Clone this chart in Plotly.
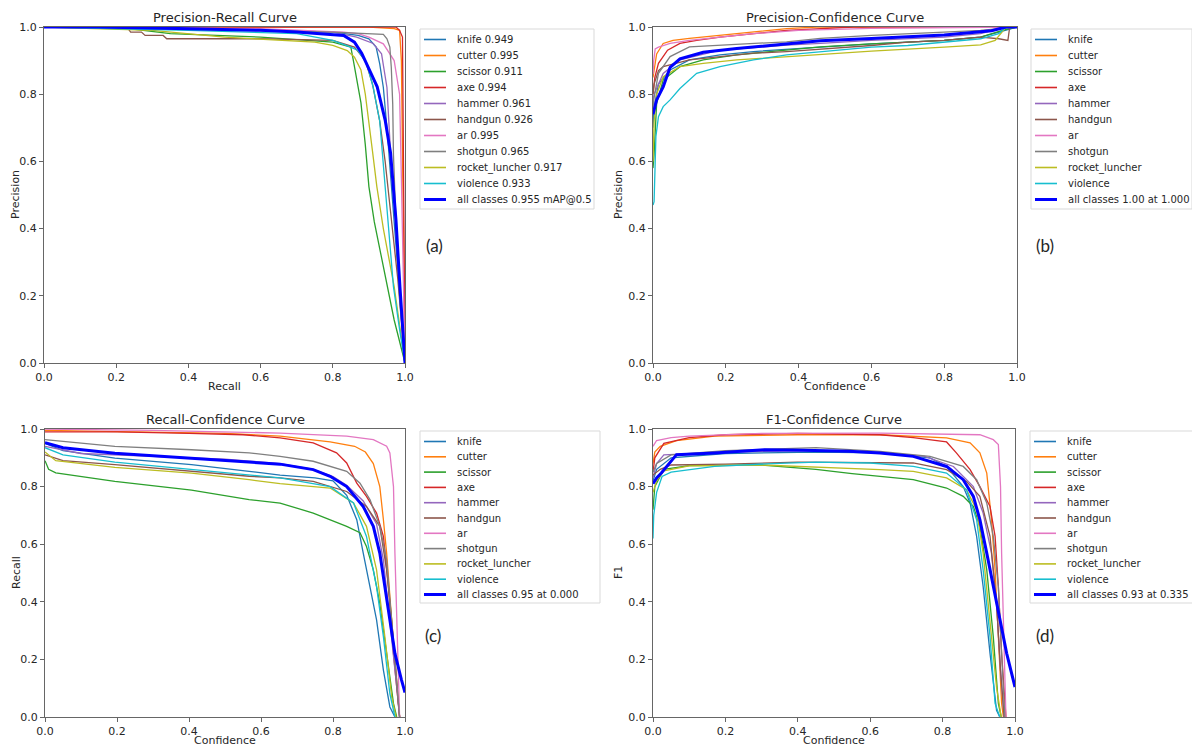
import plotly.graph_objects as go

# target picture size; the page body adds an 8px margin before the figure
W, H = 1200, 751
BODY = 8

# classes and colours (matplotlib tab10), "all" is the mean curve
classes = ["knife", "cutter", "scissor", "axe", "hammer", "handgun",
           "ar", "shotgun", "rocket_luncher", "violence"]
colors = ["#1f77b4", "#ff7f0e", "#2ca02c", "#d62728", "#9467bd",
          "#8c564b", "#e377c2", "#7f7f7f", "#bcbd22", "#17becf"]
ap50 = [0.949, 0.995, 0.911, 0.994, 0.961, 0.926, 0.995, 0.965, 0.917, 0.933]

# (a) Precision-Recall
pr_recall = {
    "knife": [0, 0.5, 0.8, 0.87, 0.9, 0.92, 0.93, 0.94, 0.95, 0.96, 0.975, 0.99, 1.0],
    "cutter": [0, 0.9, 0.97, 0.985, 0.99, 0.995, 1.0],
    "scissor": [0, 0.2, 0.35, 0.6, 0.8, 0.85, 0.857, 0.865, 0.878, 0.89, 0.9, 0.915, 0.933, 0.95, 0.97, 1.0],
    "axe": [0, 0.96, 0.975, 0.985, 0.99, 0.993, 0.995, 0.997, 1.0],
    "hammer": [0, 0.5, 0.8, 0.866, 0.912, 0.935, 0.95, 0.96, 0.97, 0.98, 0.99, 1.0],
    "handgun": [0, 0.23, 0.24, 0.27, 0.28, 0.33, 0.34, 0.6, 0.8, 0.86, 0.89, 0.91, 0.93, 0.945, 0.96, 0.98, 1.0],
    "ar": [0, 0.6, 0.83, 0.87, 0.9, 0.94, 0.97, 0.985, 0.99, 0.995, 1.0],
    "shotgun": [0, 0.5, 0.8, 0.94, 0.95, 0.958, 0.962, 0.966, 0.968, 0.975, 0.985, 1.0],
    "rocket_luncher": [0, 0.3, 0.5, 0.65, 0.75, 0.8, 0.84, 0.86, 0.878, 0.89, 0.9, 0.91, 0.922, 0.94, 0.97, 1.0],
    "violence": [0, 0.4, 0.7, 0.8, 0.848, 0.87, 0.894, 0.912, 0.93, 0.945, 0.955, 0.968, 0.985, 1.0],
    "all": [0, 0.15, 0.4, 0.6, 0.7, 0.78, 0.83, 0.86, 0.88, 0.923, 0.945, 0.96, 0.975, 0.986, 1.0],
}
pr_precision = {
    "knife": [1, 0.995, 0.985, 0.975, 0.965, 0.94, 0.89, 0.82, 0.7, 0.55, 0.35, 0.15, 0],
    "cutter": [1, 1, 0.995, 0.99, 0.9, 0.5, 0],
    "scissor": [1, 1, 0.98, 0.97, 0.955, 0.94, 0.9, 0.85, 0.774, 0.65, 0.525, 0.42, 0.327, 0.24, 0.128, 0],
    "axe": [1, 1, 1, 0.99, 0.98, 0.97, 0.7, 0.3, 0],
    "hammer": [1, 0.995, 0.985, 0.97, 0.951, 0.92, 0.82, 0.625, 0.48, 0.33, 0.15, 0],
    "handgun": [1, 1, 0.985, 0.985, 0.975, 0.975, 0.965, 0.965, 0.96, 0.94, 0.9, 0.83, 0.72, 0.6, 0.45, 0.25, 0],
    "ar": [1, 0.995, 0.985, 0.98, 0.97, 0.95, 0.9, 0.8, 0.55, 0.3, 0],
    "shotgun": [1, 0.99, 0.985, 0.978, 0.965, 0.94, 0.88, 0.77, 0.62, 0.42, 0.2, 0],
    "rocket_luncher": [1, 0.99, 0.97, 0.96, 0.955, 0.945, 0.93, 0.91, 0.872, 0.8, 0.723, 0.63, 0.525, 0.4, 0.227, 0],
    "violence": [1, 0.99, 0.98, 0.96, 0.941, 0.93, 0.892, 0.82, 0.72, 0.525, 0.4, 0.227, 0.1, 0],
    "all": [1, 1, 0.995, 0.99, 0.985, 0.98, 0.975, 0.955, 0.922, 0.822, 0.723, 0.625, 0.426, 0.227, 0],
}

# (b) Precision-Confidence
pc_conf = {
    "knife": [0, 0.003, 0.015, 0.047, 0.1, 0.184, 0.276, 0.46, 0.6, 0.8, 0.9, 0.95, 1.0],
    "cutter": [0, 0.004, 0.01, 0.028, 0.055, 0.1, 0.184, 0.276, 0.367, 0.45, 1.0],
    "scissor": [0, 0.003, 0.01, 0.028, 0.074, 0.138, 0.23, 0.367, 0.46, 0.6, 0.8, 0.9, 0.96, 1.0],
    "axe": [0, 0.005, 0.015, 0.04, 0.074, 0.12, 0.184, 0.276, 0.367, 0.55, 1.0],
    "hammer": [0, 0.003, 0.028, 0.074, 0.184, 0.367, 0.46, 0.6, 0.8, 0.9, 0.97, 1.0],
    "handgun": [0, 0.003, 0.015, 0.028, 0.1, 0.184, 0.276, 0.367, 0.46, 0.6, 0.7, 0.8, 0.9, 0.95, 0.975, 0.98, 1.0],
    "ar": [0, 0.002, 0.006, 0.015, 0.047, 0.1, 0.184, 0.276, 0.4, 0.6, 1.0],
    "shotgun": [0, 0.003, 0.015, 0.047, 0.1, 0.184, 0.276, 0.367, 0.46, 0.6, 0.8, 0.9, 1.0],
    "rocket_luncher": [0, 0.003, 0.01, 0.028, 0.074, 0.138, 0.23, 0.367, 0.46, 0.6, 0.8, 0.9, 0.94, 0.97, 1.0],
    "violence": [0, 0.003, 0.008, 0.015, 0.028, 0.047, 0.074, 0.12, 0.184, 0.276, 0.367, 0.46, 0.6, 0.7, 0.8, 0.9, 0.95, 0.97, 1.0],
    "all": [0, 0.003, 0.01, 0.028, 0.047, 0.074, 0.138, 0.23, 0.367, 0.46, 0.6, 0.8, 0.93, 0.97, 1.0],
}
pc_precision = {
    "knife": [0.7, 0.76, 0.83, 0.872, 0.902, 0.917, 0.927, 0.941, 0.95, 0.96, 0.97, 0.985, 1.0],
    "cutter": [0.85, 0.88, 0.92, 0.951, 0.96, 0.966, 0.975, 0.985, 0.995, 1.0, 1.0],
    "scissor": [0.58, 0.62, 0.773, 0.842, 0.882, 0.902, 0.917, 0.931, 0.941, 0.95, 0.96, 0.97, 0.99, 1.0],
    "axe": [0.8, 0.85, 0.892, 0.931, 0.951, 0.96, 0.97, 0.98, 0.99, 1.0, 1.0],
    "hammer": [0.78, 0.8, 0.862, 0.902, 0.931, 0.946, 0.951, 0.96, 0.97, 0.98, 1.0, 1.0],
    "handgun": [0.8, 0.83, 0.87, 0.882, 0.902, 0.912, 0.922, 0.927, 0.934, 0.945, 0.955, 0.96, 0.97, 0.965, 0.96, 1.0, 1.0],
    "ar": [0.86, 0.9, 0.935, 0.94, 0.951, 0.96, 0.97, 0.98, 0.99, 0.996, 1.0],
    "shotgun": [0.76, 0.79, 0.862, 0.912, 0.941, 0.946, 0.951, 0.956, 0.966, 0.975, 0.985, 0.99, 1.0],
    "rocket_luncher": [0.6, 0.72, 0.8, 0.852, 0.882, 0.892, 0.902, 0.912, 0.917, 0.928, 0.94, 0.947, 0.96, 1.0, 1.0],
    "violence": [0.47, 0.48, 0.674, 0.733, 0.763, 0.783, 0.817, 0.862, 0.882, 0.902, 0.917, 0.927, 0.94, 0.945, 0.955, 0.965, 0.98, 1.0, 1.0],
    "all": [0.74, 0.753, 0.783, 0.822, 0.88, 0.905, 0.925, 0.936, 0.951, 0.959, 0.966, 0.976, 0.989, 1.0, 1.0],
}

# (c) Recall-Confidence
rc_conf = {
    "knife": [0, 0.05, 0.194, 0.407, 0.567, 0.653, 0.75, 0.8, 0.838, 0.866, 0.884, 0.903, 0.921, 0.94, 0.958, 0.972],
    "cutter": [0, 0.3, 0.5, 0.653, 0.792, 0.86, 0.89, 0.912, 0.93, 0.94, 0.949, 0.963, 0.977, 0.985],
    "scissor": [0, 0.01, 0.03, 0.194, 0.407, 0.567, 0.653, 0.745, 0.838, 0.875, 0.893, 0.912, 0.93, 0.949, 0.968, 0.977],
    "axe": [0, 0.2, 0.4, 0.55, 0.653, 0.745, 0.81, 0.838, 0.866, 0.893, 0.921, 0.94, 0.954, 0.968, 0.985],
    "hammer": [0, 0.1, 0.3, 0.5, 0.653, 0.745, 0.8, 0.838, 0.884, 0.921, 0.94, 0.958, 0.977, 0.985],
    "handgun": [0, 0.05, 0.194, 0.407, 0.567, 0.653, 0.745, 0.838, 0.893, 0.93, 0.949, 0.963, 0.977, 0.985],
    "ar": [0, 0.3, 0.653, 0.838, 0.912, 0.949, 0.958, 0.968, 0.972, 0.977, 0.981, 0.985],
    "shotgun": [0, 0.194, 0.407, 0.567, 0.653, 0.745, 0.838, 0.875, 0.903, 0.93, 0.949, 0.963, 0.977, 0.985],
    "rocket_luncher": [0, 0.03, 0.194, 0.407, 0.567, 0.653, 0.792, 0.857, 0.893, 0.921, 0.944, 0.963, 0.975],
    "violence": [0, 0.05, 0.194, 0.407, 0.567, 0.653, 0.792, 0.857, 0.893, 0.921, 0.94, 0.958, 0.972],
    "all": [0, 0.05, 0.194, 0.407, 0.567, 0.653, 0.745, 0.792, 0.838, 0.884, 0.912, 0.93, 0.944, 0.958, 0.972, 0.99, 1.0],
}
rc_recall = {
    "knife": [0.95, 0.925, 0.899, 0.876, 0.853, 0.84, 0.83, 0.82, 0.77, 0.685, 0.569, 0.453, 0.337, 0.163, 0.035, 0.0],
    "cutter": [0.995, 0.99, 0.985, 0.975, 0.955, 0.94, 0.92, 0.88, 0.8, 0.685, 0.569, 0.337, 0.104, 0.0],
    "scissor": [0.89, 0.86, 0.848, 0.818, 0.788, 0.755, 0.743, 0.708, 0.662, 0.64, 0.592, 0.511, 0.395, 0.221, 0.047, 0.0],
    "axe": [0.99, 0.99, 0.985, 0.98, 0.969, 0.952, 0.917, 0.882, 0.812, 0.766, 0.708, 0.627, 0.453, 0.221, 0.0],
    "hammer": [0.94, 0.915, 0.905, 0.895, 0.88, 0.86, 0.835, 0.805, 0.75, 0.67, 0.545, 0.337, 0.104, 0.0],
    "handgun": [0.91, 0.89, 0.876, 0.853, 0.836, 0.83, 0.818, 0.783, 0.731, 0.662, 0.511, 0.337, 0.104, 0.0],
    "ar": [1.0, 0.995, 0.986, 0.975, 0.963, 0.94, 0.917, 0.8, 0.569, 0.337, 0.104, 0.0],
    "shotgun": [0.963, 0.94, 0.928, 0.917, 0.905, 0.888, 0.853, 0.812, 0.754, 0.662, 0.545, 0.337, 0.104, 0.0],
    "rocket_luncher": [0.92, 0.89, 0.867, 0.847, 0.824, 0.81, 0.795, 0.743, 0.662, 0.511, 0.279, 0.07, 0.0],
    "violence": [0.935, 0.91, 0.885, 0.86, 0.84, 0.83, 0.8, 0.743, 0.627, 0.453, 0.279, 0.08, 0.0],
    "all": [0.952, 0.935, 0.916, 0.899, 0.887, 0.878, 0.859, 0.836, 0.8, 0.731, 0.662, 0.569, 0.453, 0.337, 0.221, 0.13, 0.085],
}

# (d) F1-Confidence
f1_conf = {
    "knife": [0, 0.01, 0.05, 0.2, 0.45, 0.627, 0.765, 0.811, 0.857, 0.876, 0.894, 0.912, 0.931, 0.949, 0.958],
    "cutter": [0, 0.005, 0.02, 0.065, 0.17, 0.4, 0.627, 0.811, 0.876, 0.903, 0.922, 0.935, 0.945, 0.954, 0.963, 0.968],
    "scissor": [0, 0.005, 0.03, 0.1, 0.3, 0.45, 0.55, 0.627, 0.719, 0.811, 0.857, 0.885, 0.903, 0.922, 0.94, 0.954, 0.962],
    "axe": [0, 0.005, 0.03, 0.1, 0.2, 0.4, 0.627, 0.719, 0.811, 0.838, 0.876, 0.903, 0.931, 0.945, 0.954, 0.963, 0.975],
    "hammer": [0, 0.01, 0.03, 0.2, 0.45, 0.627, 0.75, 0.83, 0.885, 0.912, 0.935, 0.949, 0.96, 0.97],
    "handgun": [0, 0.02, 0.05, 0.2, 0.4, 0.627, 0.719, 0.811, 0.866, 0.903, 0.931, 0.949, 0.96, 0.97],
    "ar": [0, 0.01, 0.05, 0.1, 0.3, 0.627, 0.903, 0.94, 0.954, 0.96, 0.963, 0.968, 0.972, 0.975],
    "shotgun": [0, 0.01, 0.05, 0.2, 0.45, 0.627, 0.765, 0.857, 0.894, 0.922, 0.94, 0.954, 0.963, 0.972],
    "rocket_luncher": [0, 0.01, 0.03, 0.1, 0.3, 0.5, 0.627, 0.719, 0.811, 0.866, 0.894, 0.912, 0.931, 0.949, 0.962],
    "violence": [0, 0.002, 0.01, 0.025, 0.05, 0.17, 0.33, 0.45, 0.6, 0.719, 0.811, 0.866, 0.894, 0.912, 0.931, 0.945, 0.958],
    "all": [0, 0.01, 0.023, 0.049, 0.065, 0.17, 0.308, 0.414, 0.541, 0.627, 0.719, 0.811, 0.857, 0.885, 0.903, 0.922, 0.94, 0.958, 0.977, 1.0],
}
f1_score = {
    "knife": [0.82, 0.86, 0.9, 0.915, 0.92, 0.917, 0.9, 0.87, 0.8, 0.743, 0.627, 0.453, 0.221, 0.023, 0.0],
    "cutter": [0.88, 0.92, 0.94, 0.96, 0.975, 0.98, 0.98, 0.969, 0.952, 0.917, 0.847, 0.685, 0.511, 0.279, 0.047, 0.0],
    "scissor": [0.72, 0.8, 0.86, 0.873, 0.875, 0.86, 0.845, 0.835, 0.824, 0.795, 0.766, 0.731, 0.662, 0.511, 0.279, 0.047, 0.0],
    "axe": [0.85, 0.9, 0.95, 0.97, 0.98, 0.985, 0.98, 0.97, 0.955, 0.917, 0.859, 0.8, 0.731, 0.627, 0.453, 0.221, 0.0],
    "hammer": [0.83, 0.88, 0.91, 0.92, 0.925, 0.92, 0.905, 0.87, 0.8, 0.708, 0.569, 0.395, 0.163, 0.0],
    "handgun": [0.84, 0.86, 0.875, 0.878, 0.885, 0.882, 0.882, 0.859, 0.818, 0.766, 0.627, 0.395, 0.163, 0.0],
    "ar": [0.94, 0.96, 0.97, 0.975, 0.985, 0.986, 0.98, 0.963, 0.946, 0.8, 0.569, 0.337, 0.104, 0.0],
    "shotgun": [0.85, 0.88, 0.91, 0.925, 0.935, 0.922, 0.905, 0.87, 0.824, 0.743, 0.627, 0.453, 0.221, 0.0],
    "rocket_luncher": [0.78, 0.82, 0.855, 0.872, 0.875, 0.866, 0.859, 0.853, 0.83, 0.789, 0.72, 0.569, 0.337, 0.104, 0.0],
    "violence": [0.62, 0.7, 0.78, 0.835, 0.85, 0.87, 0.88, 0.885, 0.882, 0.87, 0.847, 0.789, 0.685, 0.511, 0.279, 0.047, 0.0],
    "all": [0.81, 0.83, 0.847, 0.888, 0.911, 0.917, 0.928, 0.926, 0.923, 0.917, 0.905, 0.87, 0.824, 0.766, 0.685, 0.569, 0.453, 0.337, 0.221, 0.104],
}

tick_vals = [0, 0.2, 0.4, 0.6, 0.8, 1.0]
tick_text = ["0.0", "0.2", "0.4", "0.6", "0.8", "1.0"]

FONT = "DejaVu Sans"
AXIS_COLOR = "#666666"
TEXT_COLOR = "#262626"


def px(x):
    # page pixel -> paper fraction
    return (x - BODY) / W


def py(y):
    return 1 - (y - BODY) / H


# panel layout in page pixels: plot box (l, r, t, b), legend box (l, t, r, b, step), tag centre
panels = [
    dict(id="", box=(44, 405, 27, 363), title="Precision-Recall Curve",
         xlabel="Recall", ylabel="Precision", ylabel_x=16,
         xs=pr_recall, ys=pr_precision,
         labels=[f"{c} {a:.3f}" for c, a in zip(classes, ap50)] + ["all classes 0.955 mAP@0.5"],
         legend=(420, 29, 594, 209, 16.0), tag="(a)", tag_pos=(434, 245)),
    dict(id="2", box=(653, 1017, 27, 363), title="Precision-Confidence Curve",
         xlabel="Confidence", ylabel="Precision", ylabel_x=619,
         xs=pc_conf, ys=pc_precision,
         labels=classes + ["all classes 1.00 at 1.000"],
         legend=(1031, 29, 1192, 209, 16.0), tag="(b)", tag_pos=(1045, 245)),
    dict(id="3", box=(45, 405, 429, 717), title="Recall-Confidence Curve",
         xlabel="Confidence", ylabel="Recall", ylabel_x=16,
         xs=rc_conf, ys=rc_recall,
         labels=classes + ["all classes 0.95 at 0.000"],
         legend=(420, 431, 600, 603, 15.3), tag="(c)", tag_pos=(433, 635)),
    dict(id="4", box=(653, 1015, 429, 717), title="F1-Confidence Curve",
         xlabel="Confidence", ylabel="F1", ylabel_x=618,
         xs=f1_conf, ys=f1_score,
         labels=classes + ["all classes 0.93 at 0.335"],
         legend=(1030, 431, 1199, 603, 15.3), tag="(d)", tag_pos=(1045, 635)),
]


def axis_style(domain, anchor):
    return dict(
        domain=domain, anchor=anchor, range=[0, 1], fixedrange=True,
        tickvals=tick_vals, ticktext=tick_text,
        tickfont=dict(family=FONT, size=11, color=TEXT_COLOR),
        ticks="outside", ticklen=4, tickwidth=1, tickcolor=AXIS_COLOR,
        showline=True, linecolor=AXIS_COLOR, linewidth=1, mirror=True,
        showgrid=False, zeroline=False, automargin=False,
    )


def create_figure():
    fig = go.Figure()
    shapes, annotations = [], []
    keys = classes + ["all"]
    line_colors = colors + ["#0000ff"]

    for p in panels:
        l, r, t, b = p["box"]
        xa, ya = "x" + p["id"], "y" + p["id"]

        # curves: classes first, mean curve on top
        for k, col in zip(keys, line_colors):
            fig.add_trace(go.Scatter(
                x=p["xs"][k], y=p["ys"][k], mode="lines",
                line=dict(color=col, width=3 if k == "all" else 1.3),
                xaxis=xa, yaxis=ya, showlegend=False, hoverinfo="skip",
            ))

        fig.update_layout({
            "xaxis" + p["id"]: axis_style([px(l), px(r)], ya),
            "yaxis" + p["id"]: axis_style([py(b), py(t)], xa),
        })

        # title, axis titles and panel tag
        annotations.append(dict(text=p["title"], x=px((l + r) / 2), y=py(t - 10),
                                font=dict(family=FONT, size=13, color=TEXT_COLOR)))
        annotations.append(dict(text=p["xlabel"], x=px((l + r) / 2), y=py(b + 23),
                                font=dict(family=FONT, size=11, color=TEXT_COLOR)))
        annotations.append(dict(text=p["ylabel"], x=px(p["ylabel_x"]), y=py((t + b) / 2),
                                textangle=-90, font=dict(family=FONT, size=11, color=TEXT_COLOR)))
        annotations.append(dict(text=p["tag"], x=px(p["tag_pos"][0]), y=py(p["tag_pos"][1]),
                                font=dict(family="Lato", size=17, color=TEXT_COLOR)))

        # matplotlib-like legend box drawn by hand
        ll, lt, lr, lb, step = p["legend"]
        shapes.append(dict(type="rect", xref="paper", yref="paper",
                           x0=px(ll), x1=px(lr), y0=py(lb), y1=py(lt),
                           line=dict(color="#d9d9d9", width=1), fillcolor="white"))
        for i, (lab, col) in enumerate(zip(p["labels"], line_colors)):
            yy = py(lt + 10.5 + i * step)
            shapes.append(dict(type="line", xref="paper", yref="paper",
                               x0=px(ll + 4), x1=px(ll + 26), y0=yy, y1=yy,
                               line=dict(color=col, width=3 if i == len(keys) - 1 else 1.6)))
            annotations.append(dict(text=lab, x=px(ll + 35), y=yy, xanchor="left",
                                    font=dict(family=FONT, size=10, color=TEXT_COLOR)))

    for a in annotations:
        a.setdefault("xref", "paper")
        a.setdefault("yref", "paper")
        a.setdefault("showarrow", False)
        a.setdefault("xanchor", "center")
        a.setdefault("yanchor", "middle")

    fig.update_layout(
        width=W, height=H, autosize=False,
        margin=dict(l=0, r=0, t=0, b=0, pad=0, autoexpand=False),
        paper_bgcolor="white", plot_bgcolor="white",
        shapes=shapes, annotations=annotations, showlegend=False,
    )
    return fig


if __name__ == "__main__":
    fig = create_figure()
    fig.write_html("out.html")
